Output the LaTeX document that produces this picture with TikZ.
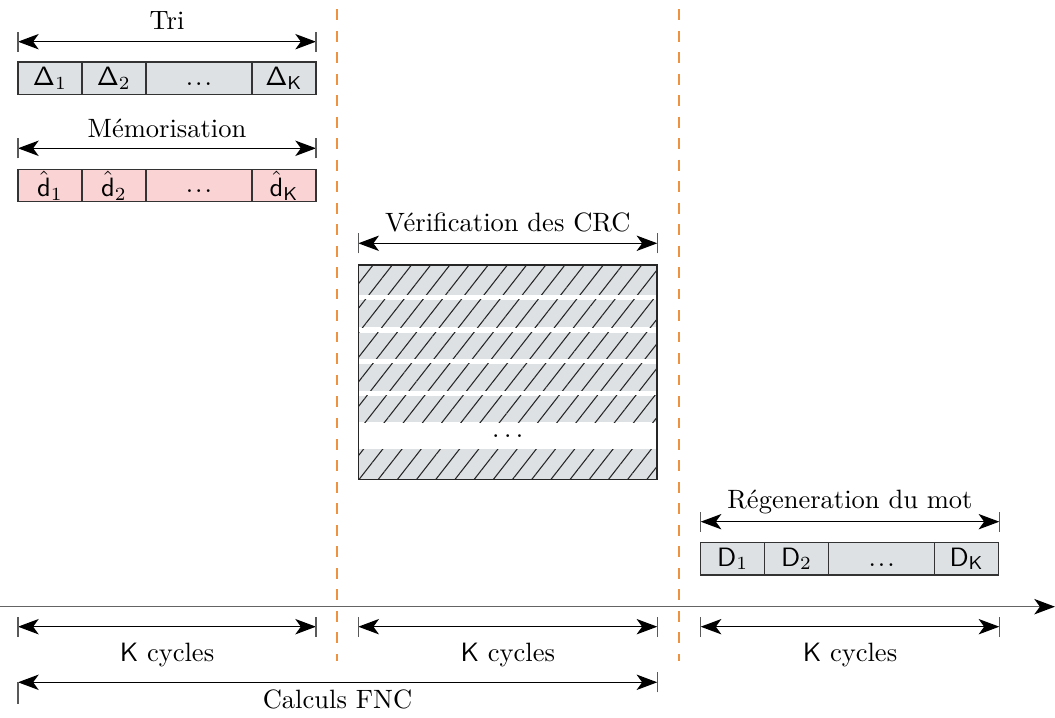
\documentclass[tikz,border=0pt]{standalone}
\usetikzlibrary{arrows.meta,patterns.meta}
\definecolor{cellgray}{RGB}{221,225,228}
\definecolor{cellpink}{RGB}{250,211,213}
\definecolor{sepor}{RGB}{238,145,65}
\definecolor{axgray}{RGB}{100,100,100}
\newcommand\dimarrow[4]{%
  \coordinate (#1L) at (#2,#4);
  \coordinate (#1R) at (#3,#4);
  \draw[dim] (#1L) -- (#1R);
  \draw[tickbar] ([yshift=-3.77pt]#1L) -- ([yshift=3.77pt]#1L);
  \draw[tickbar] ([yshift=-3.77pt]#1R) -- ([yshift=3.77pt]#1R);
}
\newcommand\celldots{\vphantom{$\mathsf{\Delta}_1$}.\kern0.75pt.\kern0.75pt.}
\newcommand\bigdots{.\kern1.7pt.\kern1.7pt.}
\begin{document}
\begin{tikzpicture}[x=0.377pt,y=-0.377pt,
  tip/.tip={Stealth[length=7.8pt,width=5.8pt,inset=2.1pt]},
  dim/.style={{tip}-{tip}, line width=0.45pt, black},
  tickbar/.style={draw=black!65, line width=0.5pt},
  lbl/.style={anchor=base, inner sep=0pt},
  cell/.style={draw=black!80, line width=0.5pt, minimum height=12.2pt,
    inner sep=0pt, outer sep=0pt, anchor=west},
  cw/.style={minimum width=24.1pt},
  cwide/.style={minimum width=40pt},
  sepline/.style={color=sepor, line width=0.6pt, dash pattern=on 4.1pt off 4pt},
  axis/.style={draw=axgray, line width=0.55pt, -{Stealth[length=7.8pt,width=5.8pt,inset=2.1pt,color=black]}},
  band/.style={fill=cellgray, postaction={pattern={Lines[angle=52,distance=5.7pt,line width=0.4pt]}, pattern color=black!85}}
]
\useasboundingbox (0,0) rectangle (1055,718);

% separators
\coordinate (s1a) at (337.2,9.3); \coordinate (s1b) at (337.2,661);
\coordinate (s2a) at (679.2,9.3); \coordinate (s2b) at (679.2,661);
\draw[sepline] (s1a) -- (s1b);
\draw[sepline] (s2a) -- (s2b);

% Tri
\node[lbl] (tri) at (167,29.5) {Tri};
\dimarrow{tri}{18}{316}{41.7}
\node[cell,cw,fill=cellgray] (a1) at (18,78.3) {$\mathsf{\Delta}_1$};
\node[cell,cw,fill=cellgray] (a2) at (a1.east) {$\mathsf{\Delta}_2$};
\node[cell,cwide,fill=cellgray] (a3) at (a2.east) {\celldots};
\node[cell,cw,fill=cellgray] (a4) at (a3.east) {$\mathsf{\Delta}_{\mathsf{K}}$};

% Memorisation
\node[lbl] (mem) at (167,137.5) {Mémorisation};
\dimarrow{mem}{18}{316}{148.3}
\node[cell,cw,fill=cellpink] (b1) at (18,185.5) {$\hat{\mathsf{d}}_1$};
\node[cell,cw,fill=cellpink] (b2) at (b1.east) {$\hat{\mathsf{d}}_2$};
\node[cell,cwide,fill=cellpink] (b3) at (b2.east) {\celldots};
\node[cell,cw,fill=cellpink] (b4) at (b3.east) {$\hat{\mathsf{d}}_{\mathsf{K}}$};

% CRC
\node[lbl] (crcl) at (507.8,231.5) {Vérification des CRC};
\dimarrow{crc}{358.3}{657.3}{243.3}
\foreach \ya/\yb in {265/295, 300/327.3, 332.7/359, 364/391, 395.7/422.3, 449.3/479.3}
  \path[band] (358.3,\ya) rectangle (657.3,\yb);
\node[draw=black!85, line width=0.6pt, minimum width=112.7pt, minimum height=80.8pt, inner sep=0pt] (crc) at (507.8,372.2) {};
\node[inner sep=0pt] (crcdots) at (507.8,436.5) {\bigdots};

% Regeneration
\node[lbl] (reg) at (850,508.3) {Régeneration du mot};
\dimarrow{reg}{700.7}{999.3}{521.7}
\node[cell,cw,fill=cellgray] (c1) at (700.7,558.8) {$\mathsf{D}_1$};
\node[cell,cw,fill=cellgray] (c2) at (c1.east) {$\mathsf{D}_2$};
\node[cell,cwide,fill=cellgray] (c3) at (c2.east) {\celldots};
\node[cell,cw,fill=cellgray] (c4) at (c3.east) {$\mathsf{D}_{\mathsf{K}}$};

% time axis
\coordinate (ax0) at (0,606.7);
\coordinate (ax1) at (1055,606.7);
\draw[axis] (ax0) -- (ax1);

% K cycles
\dimarrow{k1}{18}{316}{626.7}
\dimarrow{k2}{358.3}{657.3}{626.7}
\dimarrow{k3}{700.7}{999.3}{626.7}
\node[lbl] (k1t) at (167,661.5) {$\mathsf{K}$ cycles};
\node[lbl] (k2t) at (507.8,661.5) {$\mathsf{K}$ cycles};
\node[lbl] (k3t) at (850,661.5) {$\mathsf{K}$ cycles};

% Calculs FNC
\coordinate (fL) at (18,682.3);
\coordinate (fR) at (657.3,682.3);
\draw[dim] (fL) -- (fR);
\draw[tickbar] (fL) -- ([yshift=-8.3pt]fL);
\draw[tickbar] ([yshift=-3.77pt]fR) -- ([yshift=3.77pt]fR);
\node[lbl] (fnc) at (337.5,709) {Calculs FNC};
\end{tikzpicture}
\end{document}
